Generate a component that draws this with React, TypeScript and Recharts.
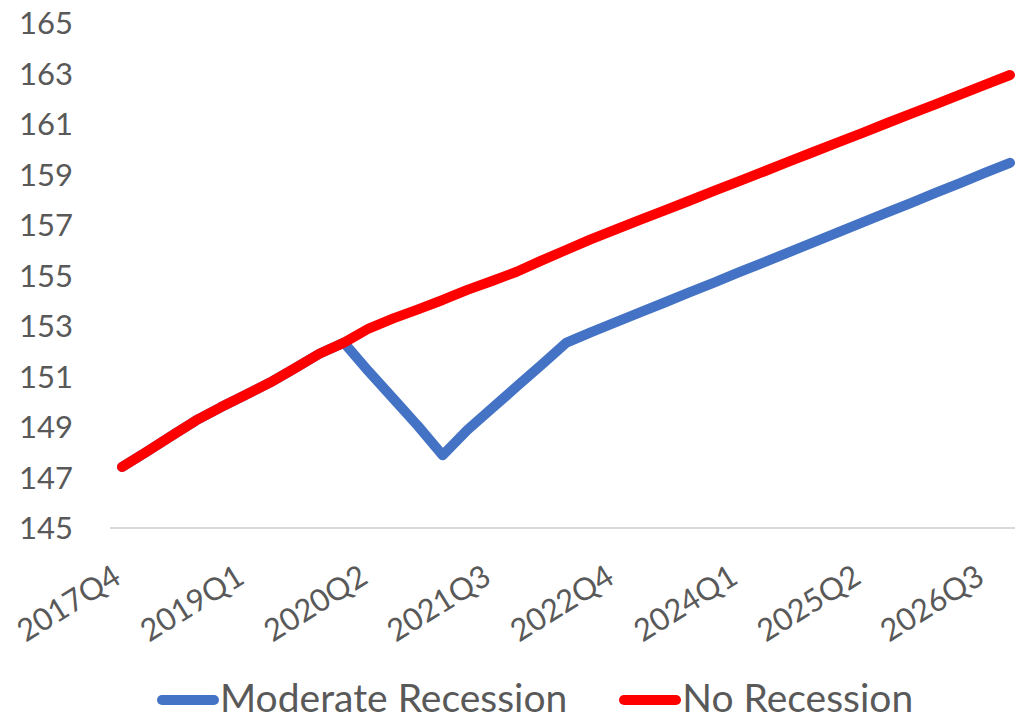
import React from 'react';
import { LineChart, Line, XAxis, YAxis, Legend } from 'recharts';

// quarters 2017Q4 .. 2026Q4
const quarters = [
  '2017Q4',
  '2018Q1', '2018Q2', '2018Q3', '2018Q4',
  '2019Q1', '2019Q2', '2019Q3', '2019Q4',
  '2020Q1', '2020Q2', '2020Q3', '2020Q4',
  '2021Q1', '2021Q2', '2021Q3', '2021Q4',
  '2022Q1', '2022Q2', '2022Q3', '2022Q4',
  '2023Q1', '2023Q2', '2023Q3', '2023Q4',
  '2024Q1', '2024Q2', '2024Q3', '2024Q4',
  '2025Q1', '2025Q2', '2025Q3', '2025Q4',
  '2026Q1', '2026Q2', '2026Q3', '2026Q4',
];

const noRecession = [
  147.42, 148.02, 148.64, 149.26, 149.78, 150.27, 150.76, 151.32, 151.9, 152.34,
  152.9, 153.3, 153.66, 154.03, 154.43, 154.78, 155.15, 155.59, 156.01, 156.43,
  156.82, 157.2, 157.58, 157.96, 158.35, 158.73, 159.11, 159.5, 159.88, 160.26,
  160.64, 161.03, 161.41, 161.79, 162.17, 162.56, 162.94,
];

const moderateRecession = [
  147.42, 148.02, 148.64, 149.26, 149.78, 150.27, 150.76, 151.32, 151.9, 152.34,
  151.2, 150.12, 149.04, 147.88, 148.88, 149.74, 150.6, 151.46, 152.33, 152.75,
  153.14, 153.54, 153.93, 154.33, 154.72, 155.12, 155.51, 155.91, 156.3, 156.7,
  157.09, 157.49, 157.88, 158.28, 158.67, 159.07, 159.46,
];

const yTicks = [145, 147, 149, 151, 153, 155, 157, 159, 161, 163, 165];

const data = quarters.map((q, i) => ({
  quarter: q,
  moderate: moderateRecession[i],
  none: noRecession[i],
}));

const FONT = 'Lato, "Open Sans", sans-serif';
const GREY = '#595959';

const XTick = (props: any) => {
  const { x, y, payload } = props;
  return (
    <g transform={`translate(${x + 1},${y + 54})`}>
      <text
        textAnchor="end"
        transform="rotate(-32)"
        fill={GREY}
        fontSize={31}
        fontFamily={FONT}
      >
        {payload.value}
      </text>
    </g>
  );
};

const LegendContent = (props: any) => {
  const items = props.payload || [];
  return (
    <div
      style={{
        display: 'flex',
        alignItems: 'center',
        height: 39,
        paddingLeft: 157,
        fontFamily: FONT,
        fontSize: 39,
        lineHeight: 1,
        color: GREY,
      }}
    >
      {items.map((item: any, i: number) => (
        <div
          key={item.value}
          style={{ display: 'flex', alignItems: 'center', marginRight: i === 0 ? 52 : 0 }}
        >
          <svg width={62} height={14} style={{ marginRight: 1, marginTop: 4 }}>
            <line
              x1={5}
              y1={7}
              x2={57}
              y2={7}
              stroke={item.color}
              strokeWidth={10}
              strokeLinecap="round"
            />
          </svg>
          <span style={{ whiteSpace: 'nowrap' }}>{item.value}</span>
        </div>
      ))}
    </div>
  );
};

const App = () => {
  return (
    <div
      style={{
        position: 'absolute',
        left: 0,
        top: 0,
        width: 1015,
        height: 717,
        overflow: 'hidden',
        background: '#fff',
      }}
    >
      <LineChart
        width={1030}
        height={717}
        data={data}
        margin={{ top: 23, right: 8, bottom: 0, left: 0 }}
      >
        <XAxis
          dataKey="quarter"
          interval={4}
          padding={{ left: 12, right: 12 }}
          axisLine={{ stroke: '#d9d9d9', strokeWidth: 2 }}
          tickLine={false}
          tickSize={0}
          tickMargin={0}
          height={150}
          tick={<XTick />}
        />
        <YAxis
          domain={[145, 165]}
          ticks={yTicks}
          width={110}
          axisLine={false}
          tickLine={false}
          tickSize={0}
          tickMargin={37}
          tick={{ fontSize: 31, fill: GREY, fontFamily: FONT }}
        />
        <Legend
          content={<LegendContent />}
          verticalAlign="bottom"
          wrapperStyle={{ left: 0, top: 678, width: 1015, height: 39 }}
        />
        <Line
          type="linear"
          dataKey="moderate"
          name="Moderate Recession"
          stroke="#4472C4"
          strokeWidth={10}
          strokeLinecap="round"
          strokeLinejoin="round"
          dot={false}
          activeDot={false}
          isAnimationActive={false}
        />
        <Line
          type="linear"
          dataKey="none"
          name="No Recession"
          stroke="#FF0000"
          strokeWidth={10}
          strokeLinecap="round"
          strokeLinejoin="round"
          dot={false}
          activeDot={false}
          isAnimationActive={false}
        />
      </LineChart>
    </div>
  );
};

export default App;
